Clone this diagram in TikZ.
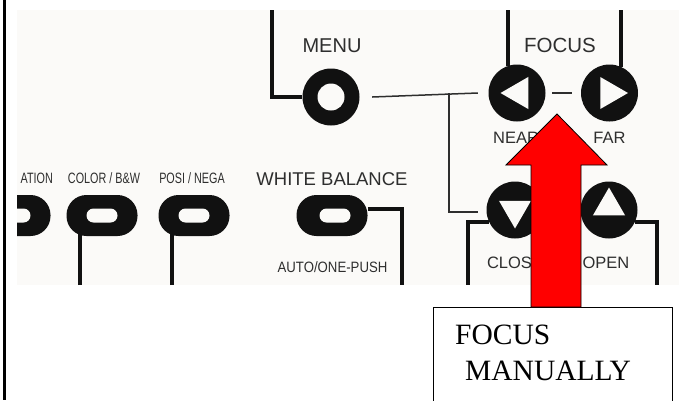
\documentclass[tikz,border=0pt]{standalone}
\usepackage{xcolor}
\usepackage{fontspec}
\setmainfont{Liberation Serif}
\newfontfamily\panelfont{Liberation Sans}
\newfontfamily\narrowfont[FakeStretch=0.72]{Liberation Sans}
\newfontfamily\slimfont[FakeStretch=0.88]{Liberation Sans}
\usetikzlibrary{shapes.geometric}
\definecolor{paper}{HTML}{FBFAF8}
\definecolor{ink}{HTML}{111111}
\definecolor{print}{HTML}{2E2E2E}

\begin{document}
\begin{tikzpicture}[x=1pt,y=-1pt,
    ring/.style={circle, fill=ink, minimum size=57pt, inner sep=0pt},
    hole/.style={circle, fill=paper, minimum size=27pt, inner sep=0pt},
    pill/.style={rectangle, rounded corners=20pt, fill=ink, minimum width=71pt, minimum height=41pt, inner sep=0pt},
    slot/.style={rectangle, rounded corners=7pt, fill=paper, minimum width=31pt, minimum height=14pt, inner sep=0pt},
    tri/.style={regular polygon, regular polygon sides=3, fill=paper, minimum size=37pt, inner sep=0pt},
    wire/.style={draw=ink, line width=4pt},
    thinwire/.style={draw=print, line width=1.5pt},
    lbl/.style={text=print, inner sep=0pt, anchor=base}]

    \useasboundingbox (0,0) rectangle (679,400);
    \draw[black, line width=3.3pt] (4.5,0) -- (4.5,400);
    \fill[paper] (17,10) rectangle (679,285);

    \begin{scope}
    \clip (17,10) rectangle (679,285);

    \node[ring] (menu) at (331,97) {};
    \node[hole] (menuhole) at (menu) {};
    \node[ring] (near) at (517,93) {};
    \node[tri, shape border rotate=90] (neartri) at ([xshift=2pt]near) {};
    \node[ring] (far) at (609.5,93) {};
    \node[tri, shape border rotate=-90] (fartri) at (far) {};
    \node[ring] (close) at (515,210) {};
    \node[tri, shape border rotate=180] (closetri) at (close) {};
    \node[ring] (open) at (609,210) {};
    \node[tri] (opentri) at ([yshift=4pt]open) {};

    \node[pill] (satbtn) at (15,215.5) {};
    \node[slot] (satslot) at (satbtn) {};
    \node[pill] (colorbw) at (102,215.5) {};
    \node[slot] (colorslot) at (colorbw) {};
    \node[pill] (posineg) at (194,215.5) {};
    \node[slot] (posislot) at (posineg) {};
    \node[pill] (wb) at (332,215.5) {};
    \node[slot] (wbslot) at ([xshift=3pt]wb) {};

    \coordinate (menutop) at (272,10);
    \coordinate (neartop) at (508,10);
    \coordinate (fartop) at (621,10);
    \coordinate (branch) at (449,93);
    \coordinate (colorfoot) at (80,285);
    \coordinate (posifoot) at (172,285);
    \coordinate (wbfoot) at (402,285);
    \coordinate (closefoot) at (468,285);
    \coordinate (openfoot) at (657,285);

    \draw[wire] (menu.west) -| (menutop);
    \draw[wire] (near.108) -- (near.108 |- neartop);
    \draw[wire] (far.66) -- (far.66 |- fartop);
    \draw[thinwire] ([xshift=6.5pt]near.east) -- ([xshift=-9pt]far.west);
    \draw[thinwire] ([xshift=12.5pt]menu.east) -- ([xshift=-10.5pt]near.west);
    \draw[thinwire] (branch) |- ([xshift=-8.5pt,yshift=-2pt]close.west);
    \draw[wire] (close.205) -| (closefoot);
    \draw[wire] (open.-25) -| (openfoot);
    \draw[wire] ([yshift=7pt]wb.east) -| (wbfoot);
    \draw[wire] (colorfoot) -- (colorfoot |- colorbw);
    \draw[wire] (posifoot) -- (posifoot |- posineg);

    \node[lbl, font=\panelfont\fontsize{20}{24}\selectfont] (menulbl) at (332,52) {MENU};
    \node[lbl, font=\panelfont\fontsize{20.5}{24}\selectfont] (focuslbl) at (560,52) {FOCUS};
    \node[lbl, font=\panelfont\fontsize{16.5}{20}\selectfont] (nearlbl) at (516,143) {NEAR};
    \node[lbl, font=\panelfont\fontsize{16.5}{20}\selectfont] (farlbl) at (609.5,143) {FAR};
    \node[lbl, font=\panelfont\fontsize{16.5}{20}\selectfont] (closelbl) at (515,268) {CLOSE};
    \node[lbl, font=\panelfont\fontsize{16.5}{20}\selectfont] (openlbl) at (606,268) {OPEN};
    \node[lbl, font=\panelfont\fontsize{18.5}{22}\selectfont] (wblbl) at (332,185) {WHITE BALANCE};
    \node[lbl, font=\slimfont\fontsize{15}{18}\selectfont] (autolbl) at (332.5,272) {AUTO/ONE-PUSH};
    \node[lbl, font=\narrowfont\fontsize{15}{18}\selectfont] (colorlbl) at (104,183) {COLOR / B\&W};
    \node[lbl, font=\narrowfont\fontsize{15}{18}\selectfont] (posilbl) at (192,183) {POSI / NEGA};
    \node[lbl, anchor=base east, font=\narrowfont\fontsize{15}{18}\selectfont] (satlbl) at (53,183) {ATION};
    \end{scope}

    \node[draw=black, line width=1.2pt, fill=white, anchor=north west, minimum width=239pt, minimum height=110pt, inner sep=0pt] (manualbox) at (433,307) {};
    \draw[fill=red, draw=black, line width=0.8pt] (557,114) -- (607,165) -- (581,165) -- (581,307) -- (531,307) -- (531,165) -- (506,165) -- cycle;
    \node[anchor=base west, inner sep=0pt, font=\fontsize{29.5}{36}\selectfont] (manualtxt) at (455,344) {FOCUS};
    \node[anchor=base west, inner sep=0pt, font=\fontsize{29.5}{36}\selectfont] (manualtxtb) at (465,380) {MANUALLY};
\end{tikzpicture}
\end{document}
